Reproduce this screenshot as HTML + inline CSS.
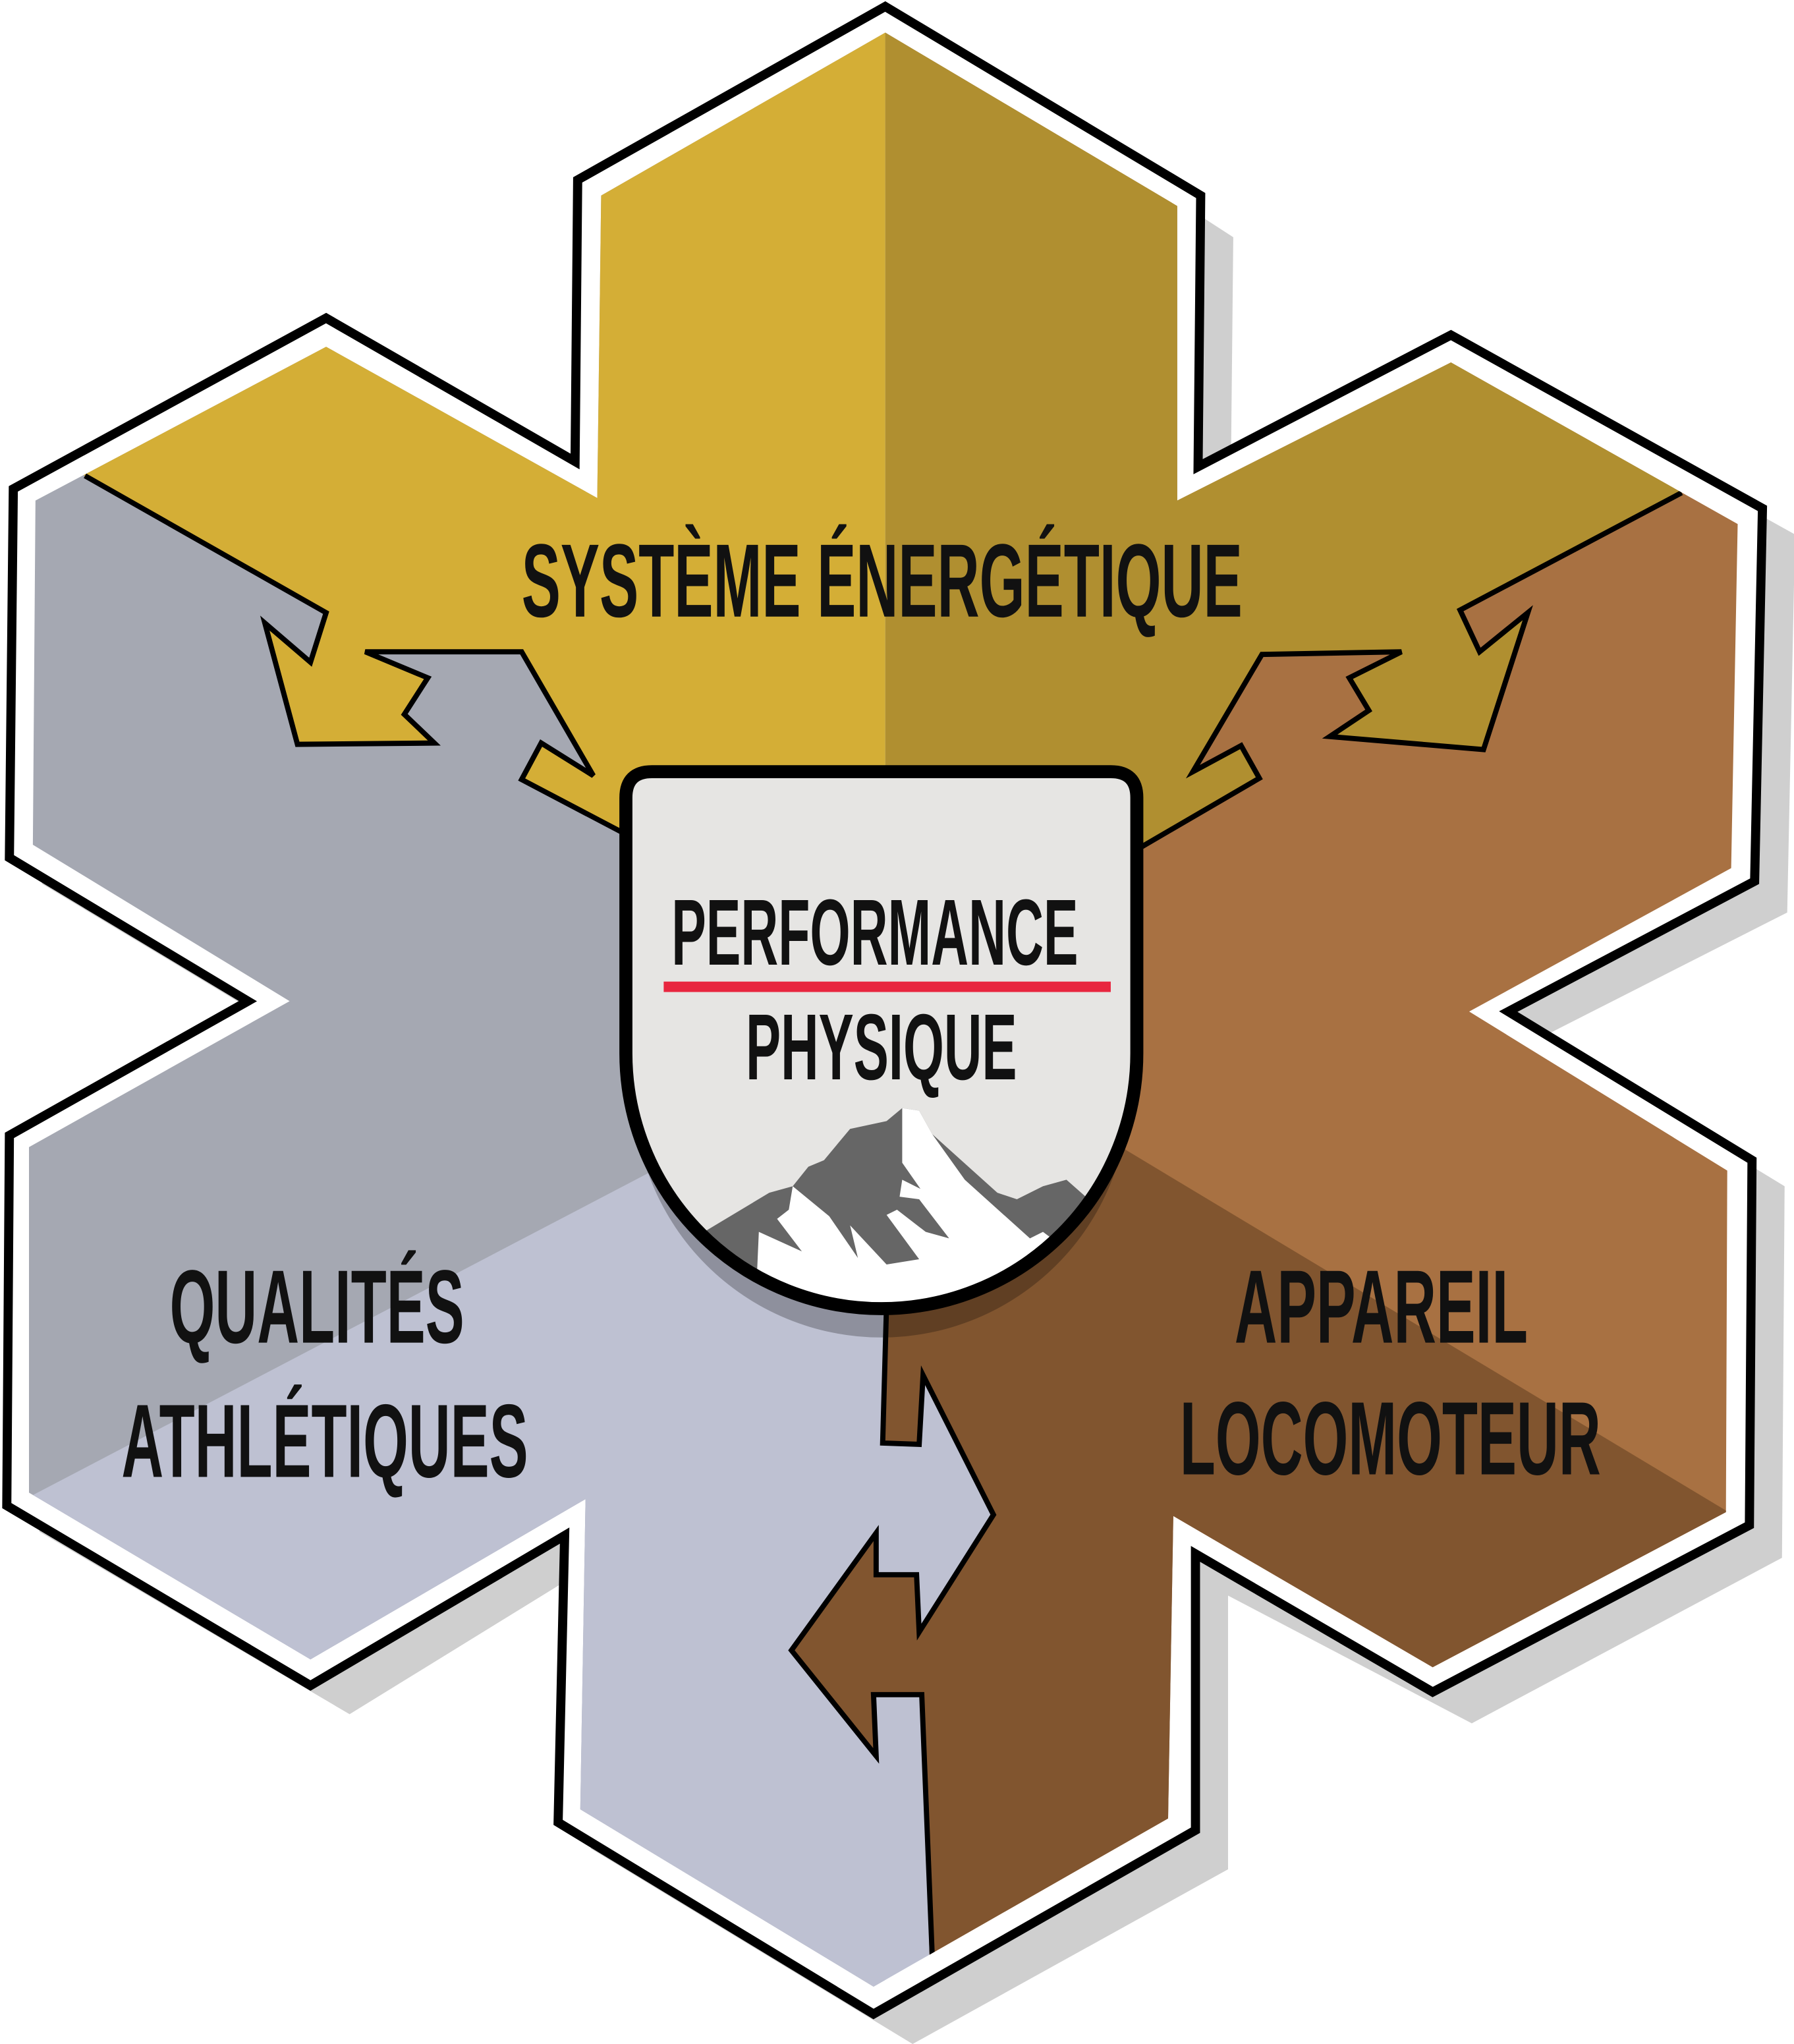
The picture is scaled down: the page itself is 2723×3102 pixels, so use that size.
<!DOCTYPE html>
<html><head><meta charset="utf-8"><style>html,body{margin:0;padding:0;background:#fff}svg{display:block}</style></head>
<body>
<svg width="2723" height="3102" viewBox="0 0 1376 1568" xmlns="http://www.w3.org/2000/svg">
<defs>
<clipPath id="inner"><polygon points="679,25 903,158 903,384 1113,278 1333,402 1328,666 1127,776 1325,898 1324,1160 1099,1279 900,1163 896,1395 670,1524 445,1388 449,1150 238,1273 22,1145 22,880 222,768 25,648 27,384 250,266 458,382 461,150"/></clipPath>
<clipPath id="shield"><path d="M480,612 Q480,592 500,592 L852,592 Q872,592 872,612 L872,808 A196,196 0 0 1 480,808 Z"/></clipPath>
</defs>
<polygon points="704,25 946,182 944,378 1138,277 1377,410 1371,700 1182,796 1369,910 1367,1195 1129,1322 942,1224 942,1434 700,1568 453,1418 458,1198 268,1315 30,1175 32,891 215,788 32,678 35,395 275,264 466,374 468,158" fill="#cfcfcf"/>
<polygon points="679,5 921,150 919,358 1113,257 1352,390 1346,676 1157,776 1344,890 1342,1170 1099,1298 917,1192 917,1404 670,1545 428,1398 433,1178 238,1293 5,1155 7,871 190,768 7,658 10,375 250,244 441,354 443,138" fill="#fff" stroke="#000" stroke-width="7" stroke-linejoin="miter"/>
<g clip-path="url(#inner)">
<rect x="0" y="0" width="679" height="1568" fill="#A5A8B2"/>
<polygon points="0,1160 497,900 680,1000 677,1107 705,1108 708,1055 762,1162 705,1252 703,1208 672,1208 672,1176 607,1266 672,1347 670,1300 707,1300 715,1568 0,1568" fill="#BEC1D2"/>
<polygon points="679,0 1376,0 1376,1568 715,1568 707,1300 670,1300 672,1347 607,1266 672,1176 672,1208 703,1208 705,1252 762,1162 708,1055 705,1108 677,1107 680,1000" fill="#A87142"/>
<polygon points="860,880 1376,1190 1376,1568 715,1568 707,1300 670,1300 672,1347 607,1266 672,1176 672,1208 703,1208 705,1252 762,1162 708,1055 705,1108 677,1107 680,1000" fill="#81552F"/>
<polygon points="679,0 679,590 480,640 400,598 415,570 455,595 400,500 280,500 328,520 310,548 333,570 228,571 203,478 238,508 250,470 65,365 0,330 0,0" fill="#D4AE36"/>
<polygon points="679,0 1376,0 1376,350 1290,378 1120,468 1135,500 1172,470 1138,575 1020,565 1050,545 1035,520 1075,500 968,502 915,592 952,572 966,597 875,650 679,590" fill="#B08F30"/>
<g fill="none" stroke="#000" stroke-width="4" stroke-linejoin="miter">
<polyline points="480,640 400,598 415,570 455,595 400,500 280,500 328,520 310,548 333,570 228,571 203,478 238,508 250,470 65,365"/>
<polyline points="1290,378 1120,468 1135,500 1172,470 1138,575 1020,565 1050,545 1035,520 1075,500 968,502 915,592 952,572 966,597 875,650"/>
<polyline points="680,1000 677,1107 705,1108 708,1055 762,1162 705,1252 703,1208 672,1208 672,1176 607,1266 672,1347 670,1300 707,1300 715,1500"/>
</g>
</g>
<circle cx="676" cy="836" r="190" fill="#000" opacity="0.25"/>
<path d="M480,612 Q480,592 500,592 L852,592 Q872,592 872,612 L872,808 A196,196 0 0 1 480,808 Z" fill="#E6E5E3"/>
<g clip-path="url(#shield)">
<polygon points="540,945 590,915 608,910 620,895 632,890 652,866 680,860 692,850 705,852 715,870 765,915 780,920 800,910 818,905 835,920 860,960 860,1010 500,1010 500,960" fill="#666"/>
<polygon points="692,850 705,852 715,870 740,905 790,950 800,945 820,960 860,960 860,1010 500,1010 580,990 582,945 615,960 596,935 605,928 608,910 636,933 658,965 652,940 680,970 705,966 680,932 688,928 710,945 728,950 705,920 690,918 692,905 706,912 692,892" fill="#fff"/>
</g>
<path d="M480,612 Q480,592 500,592 L852,592 Q872,592 872,612 L872,808 A196,196 0 0 1 480,808 Z" fill="none" stroke="#000" stroke-width="10"/>
<rect x="509" y="753" width="343" height="8" fill="#E8263F"/>
<g font-family="'Liberation Sans Narrow','Liberation Sans',sans-serif" font-weight="bold" fill="#111">
<text x="400" y="473" font-size="80" textLength="553" lengthAdjust="spacingAndGlyphs">SYSTÈME ÉNERGÉTIQUE</text>
<text x="515" y="740" font-size="72" textLength="312" lengthAdjust="spacingAndGlyphs">PERFORMANCE</text>
<text x="572" y="828" font-size="72" textLength="208" lengthAdjust="spacingAndGlyphs">PHYSIQUE</text>
<text x="130" y="1030" font-size="80" textLength="226" lengthAdjust="spacingAndGlyphs">QUALITÉS</text>
<text x="93" y="1133" font-size="80" textLength="312" lengthAdjust="spacingAndGlyphs">ATHLÉTIQUES</text>
<text x="947" y="1030" font-size="80" textLength="225" lengthAdjust="spacingAndGlyphs">APPAREIL</text>
<text x="905" y="1131" font-size="80" textLength="323" lengthAdjust="spacingAndGlyphs">LOCOMOTEUR</text>
</g>
</svg>
</body></html>
